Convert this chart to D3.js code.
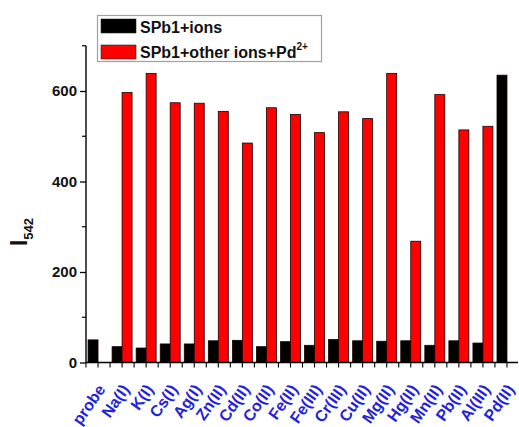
<!DOCTYPE html>
<html>
<head>
<meta charset="utf-8">
<script src="https://cdn.jsdelivr.net/npm/d3@7"></script>
<style>
  html, body { margin: 0; padding: 0; background: #fff; }
  svg { display: block; font-family: "Liberation Sans", Arial, sans-serif; }
</style>
</head>
<body>
<svg id="chart" width="519" height="427"></svg>
<script>
// Fluorescence intensity at 542 nm for SPb1 with various metal ions
const categories = ["probe", "Na(I)", "K(I)", "Cs(I)", "Ag(I)", "Zn(II)", "Cd(II)", "Co(II)",
  "Fe(II)", "Fe(III)", "Cr(III)", "Cu(II)", "Mg(II)", "Hg(II)", "Mn(II)", "Pb(II)", "Al(III)", "Pd(II)"];
const ionsOnly = [50, 35, 32, 41, 41, 48, 49, 35, 46, 38, 51, 48, 47, 48, 38, 48, 43, 635];
const ionsPlusPd = [null, 597, 639, 574, 573, 555, 485, 563, 548, 508, 554, 539, 639, 268, 592, 514, 522, null];
const seriesNames = ["SPb1+ions", "SPb1+other ions+Pd"];
const seriesColors = ["#000000", "#ff0000"];
const yMajorTicks = [0, 200, 400, 600];
const yMinorTicks = [100, 300, 500, 700];

const svg = d3.select("#chart");
const plotLeft = 86, plotRight = 519, plotTop = 45.75, plotBottom = 362.5;

const x0 = d3.scaleBand().domain(categories).range([plotLeft, plotRight]).padding(0);
const x1 = d3.scaleBand().domain([0, 1]).range([0, x0.bandwidth()]).paddingInner(0).paddingOuter(0.205);
const y = d3.scaleLinear().domain([0, 700]).range([plotBottom, plotTop]);

// bars
const groups = svg.append("g").selectAll("g")
  .data(categories)
  .join("g")
  .attr("transform", d => `translate(${x0(d)},0)`);

groups.each(function(cat, i) {
  const vals = [ionsOnly[i], ionsPlusPd[i]];
  d3.select(this).selectAll("rect")
    .data(vals.map((v, k) => ({ v, k })).filter(d => d.v != null))
    .join("rect")
    .attr("x", d => x1(d.k))
    .attr("width", x1.bandwidth())
    .attr("y", d => y(d.v))
    .attr("height", d => y(0) - y(d.v))
    .attr("fill", d => seriesColors[d.k])
    .attr("stroke", "#1a0000")
    .attr("stroke-width", 0.8);
});

// y axis
const yAxis = svg.append("g").attr("transform", `translate(${plotLeft},0)`)
  .call(d3.axisLeft(y).tickValues(yMajorTicks).tickSize(6).tickPadding(3).tickFormat(d3.format("d")));
yAxis.select(".domain").attr("stroke", "#000").attr("stroke-width", 1.4).attr("d", `M0,${plotTop}V${plotBottom}`);
yAxis.selectAll(".tick line").attr("stroke-width", 1.3);
yAxis.selectAll(".tick text")
  .attr("font-family", "Liberation Sans, Arial, sans-serif")
  .attr("font-size", 15).attr("font-weight", "bold").attr("fill", "#111");

svg.append("g").attr("transform", `translate(${plotLeft},0)`)
  .selectAll("line").data(yMinorTicks).join("line")
  .attr("x1", -4).attr("x2", 0)
  .attr("y1", d => y(d)).attr("y2", d => y(d))
  .attr("stroke", "#000").attr("stroke-width", 1.2);

// x axis: line, ticks at band edges and centres
const xAxisG = svg.append("g");
xAxisG.append("line")
  .attr("x1", plotLeft).attr("x2", plotRight - 1)
  .attr("y1", plotBottom).attr("y2", plotBottom)
  .attr("stroke", "#000").attr("stroke-width", 1.4);
const tickXs = [];
categories.forEach(c => { tickXs.push(x0(c)); tickXs.push(x0(c) + x0.bandwidth() / 2); });
xAxisG.selectAll("line.t").data(tickXs).join("line").attr("class", "t")
  .attr("x1", d => d).attr("x2", d => d)
  .attr("y1", plotBottom).attr("y2", plotBottom + 5)
  .attr("stroke", "#000").attr("stroke-width", 1.1);

xAxisG.selectAll("text").data(categories).join("text")
  .attr("transform", d => `translate(${x0(d) + x0.bandwidth() / 2 + 8},${plotBottom + 27}) rotate(-55)`)
  .attr("text-anchor", "end")
  .attr("font-size", 16).attr("font-weight", "bold")
  .attr("fill", "#2323d8")
  .text(d => d);

// y axis title: I with subscript 542
const yt = svg.append("text")
  .attr("transform", "translate(27,232) rotate(-90)")
  .attr("text-anchor", "middle")
  .attr("font-weight", "bold").attr("fill", "#111");
yt.append("tspan").attr("font-size", 23).text("I");
yt.append("tspan").attr("font-size", 13).attr("dy", 6).text("542");

// legend
const lg = svg.append("g");
lg.append("rect").attr("x", 97.5).attr("y", 15.5).attr("width", 224).attr("height", 46)
  .attr("fill", "#fff").attr("stroke", "#a0a0a0").attr("stroke-width", 1.2);
[19, 45].forEach((yy, k) => {
  lg.append("rect").attr("x", 101).attr("y", yy).attr("width", 35).attr("height", 14)
    .attr("fill", seriesColors[k]).attr("stroke", "#222").attr("stroke-width", 0.6);
});
lg.append("text").attr("x", 140).attr("y", 32.5)
  .attr("font-size", 16).attr("font-weight", "bold").attr("fill", "#111").text(seriesNames[0]);
const t2 = lg.append("text").attr("x", 140).attr("y", 58)
  .attr("font-size", 16).attr("font-weight", "bold").attr("fill", "#111");
t2.append("tspan").text(seriesNames[1]);
t2.append("tspan").attr("font-size", 10).attr("dy", -8).text("2+");
</script>
</body>
</html>
